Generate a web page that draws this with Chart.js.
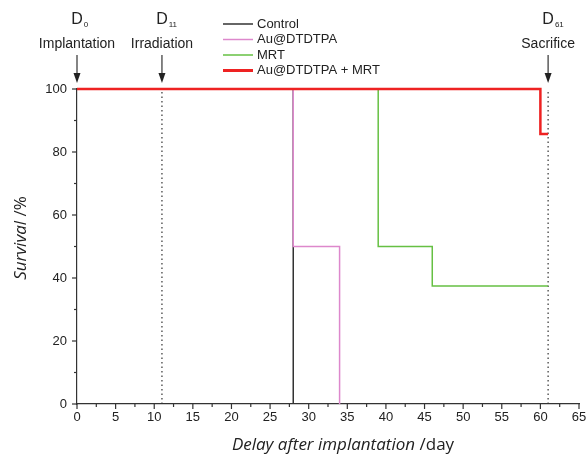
<!DOCTYPE html>
<html>
<head>
<meta charset="utf-8">
<script src="https://cdn.jsdelivr.net/npm/chart.js@4"></script>
<style>
  body { margin: 0; background: #fff; }
  #wrap { width: 588px; height: 459px; }
</style>
</head>
<body>
<div id="wrap"><canvas id="myChart" width="588" height="459"></canvas></div>
<script>
// Kaplan-Meier style survival data (day, % survival)
var controlDays = [0, 28];
var controlSurv = [100, 0];
var auDays = [0, 28, 34];
var auSurv = [100, 50, 0];
var mrtDays = [0, 39, 46, 61];
var mrtSurv = [100, 50, 37.5, 37.5];
var auMrtDays = [0, 60, 61];
var auMrtSurv = [100, 85.7, 85.7];

var seriesNames = ["Control", "Au@DTDTPA", "MRT", "Au@DTDTPA + MRT"];
var seriesColors = ["#333333", "#dd88cc", "#66c043", "#ee2222"];

// time markers
var markerDays = [0, 11, 61];
var markerSub = ["0", "11", "61"];
var markerNames = ["Implantation", "Irradiation", "Sacrifice"];
var dottedDays = [11, 61];

var xTicks = [0, 5, 10, 15, 20, 25, 30, 35, 40, 45, 50, 55, 60, 65];
var yTicks = [0, 20, 40, 60, 80, 100];

function pts(xs, ys) {
  return xs.map(function (x, i) { return { x: x, y: ys[i] }; });
}

var datasets = [
  { label: seriesNames[3], data: pts(auMrtDays, auMrtSurv), borderColor: seriesColors[3], borderWidth: 2.5, order: 0 },
  { label: seriesNames[1], data: pts(auDays, auSurv), borderColor: seriesColors[1], borderWidth: 1.5, order: 1 },
  { label: seriesNames[2], data: pts(mrtDays, mrtSurv), borderColor: seriesColors[2], borderWidth: 1.5, order: 2 },
  { label: seriesNames[0], data: pts(controlDays, controlSurv), borderColor: seriesColors[0], borderWidth: 1.5, order: 3 }
];
datasets.forEach(function (d) {
  d.stepped = true;
  d.pointRadius = 0;
  d.fill = false;
  d.clip = false;
});
dottedDays.forEach(function (day) {
  datasets.push({
    label: "marker" + day,
    data: [{ x: day, y: 0 }, { x: day, y: 100 }],
    borderColor: "#333",
    borderWidth: 1.2,
    borderDash: [1.5, 3],
    pointRadius: 0,
    clip: false,
    order: 5
  });
});

const tickFont = { family: "'Liberation Sans', Arial, sans-serif", size: 13 };

const decor = {
  id: "decor",
  afterDraw(chart) {
    const ctx = chart.ctx;
    const xs = chart.scales.x, ys = chart.scales.y;
    const a = chart.chartArea;
    ctx.save();
    ctx.strokeStyle = "#333";
    ctx.lineWidth = 1.2;
    // x ticks major / minor
    for (let v = 0; v <= 65; v += 2.5) {
      const px = xs.getPixelForValue(v);
      const len = (v % 5 === 0) ? 5 : 3;
      ctx.beginPath(); ctx.moveTo(px, a.bottom); ctx.lineTo(px, a.bottom + len); ctx.stroke();
    }
    for (let v = 0; v <= 100; v += 10) {
      const py = ys.getPixelForValue(v);
      const len = (v % 20 === 0) ? 5 : 3;
      ctx.beginPath(); ctx.moveTo(a.left, py); ctx.lineTo(a.left - len, py); ctx.stroke();
    }

    // markers above the plot
    ctx.fillStyle = "#222";
    ctx.textAlign = "center";
    ctx.textBaseline = "middle";
    markerDays.forEach(function (d, i) {
      const px = xs.getPixelForValue(d);
      ctx.font = "16px 'Liberation Sans', Arial, sans-serif";
      const w = ctx.measureText("D").width;
      ctx.fillText("D", px, 20);
      ctx.font = "8px 'Liberation Sans', Arial, sans-serif";
      ctx.textAlign = "left";
      ctx.fillText(markerSub[i], px + w / 2 + 1, 25);
      ctx.textAlign = "center";
      ctx.font = "14px 'Liberation Sans', Arial, sans-serif";
      ctx.fillText(markerNames[i], px, 44);
      // arrow
      ctx.beginPath(); ctx.moveTo(px, 55); ctx.lineTo(px, 76); ctx.stroke();
      ctx.beginPath(); ctx.moveTo(px - 3.5, 73); ctx.lineTo(px + 3.5, 73); ctx.lineTo(px, 83); ctx.closePath(); ctx.fill();
    });

    // legend
    ctx.font = "13px 'Liberation Sans', Arial, sans-serif";
    ctx.textAlign = "left";
    const legY = [24, 39.5, 55, 70.5];
    seriesNames.forEach(function (n, i) {
      ctx.strokeStyle = seriesColors[i];
      ctx.lineWidth = i === 3 ? 3 : 1.5;
      ctx.beginPath(); ctx.moveTo(223, legY[i]); ctx.lineTo(253, legY[i]); ctx.stroke();
      ctx.fillStyle = "#222";
      ctx.fillText(n, 257, legY[i]);
    });

    // axis titles (italic + plain parts)
    const itF = "italic 17px 'Open Sans', sans-serif";
    const rgF = "17px 'Open Sans', sans-serif";
    ctx.fillStyle = "#222";
    ctx.textAlign = "left";
    ctx.font = itF; const w1 = ctx.measureText("Delay after implantation ").width;
    ctx.font = rgF; const w2 = ctx.measureText("/day").width;
    let sx = 343 - (w1 + w2) / 2;
    ctx.font = itF; ctx.fillText("Delay after implantation ", sx, 445);
    ctx.font = rgF; ctx.fillText("/day", sx + w1, 445);

    ctx.translate(21, 238);
    ctx.rotate(-Math.PI / 2);
    ctx.font = itF; const w3 = ctx.measureText("Survival ").width;
    ctx.font = rgF; const w4 = ctx.measureText("/%").width;
    sx = -(w3 + w4) / 2;
    ctx.font = itF; ctx.fillText("Survival ", sx, 0);
    ctx.font = rgF; ctx.fillText("/%", sx + w3, 0);
    ctx.restore();
  }
};

const myChart = new Chart("myChart", {
  type: "line",
  data: { datasets: datasets },
  options: {
    responsive: false,
    animation: false,
    layout: { padding: { top: 89, right: 9, left: 0, bottom: 0 } },
    plugins: { legend: { display: false }, tooltip: { enabled: false } },
    scales: {
      x: {
        type: "linear", min: 0, max: 65,
        afterBuildTicks: function (s) { s.ticks = xTicks.map(function (v) { return { value: v }; }); },
        afterFit: function (s) { s.height = 55; s.paddingRight = 0; s.paddingLeft = 0; },
        grid: { display: false, drawTicks: false },
        border: { display: true, color: "#333", width: 1.2 },
        ticks: { font: tickFont, color: "#222", padding: 6, maxRotation: 0, autoSkip: false }
      },
      y: {
        type: "linear", min: 0, max: 100,
        afterBuildTicks: function (s) { s.ticks = yTicks.map(function (v) { return { value: v }; }); },
        afterFit: function (s) { s.width = 77; },
        grid: { display: false, drawTicks: false },
        border: { display: true, color: "#333", width: 1.2 },
        ticks: { font: tickFont, color: "#222", padding: 10 }
      }
    }
  },
  plugins: [decor]
});
</script>
</body>
</html>
